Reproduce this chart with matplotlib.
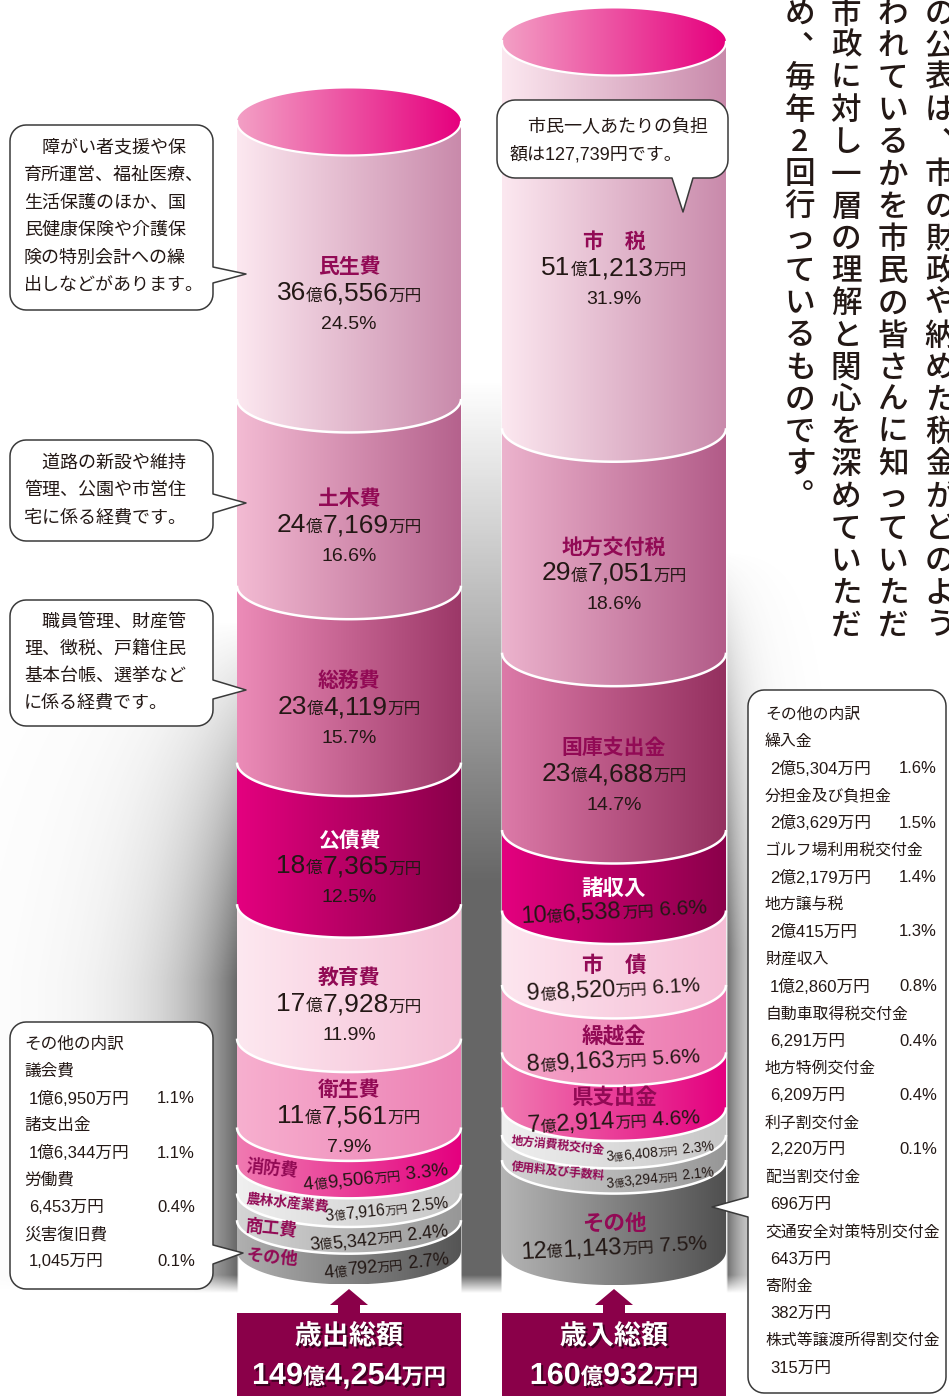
import numpy as np
import matplotlib
matplotlib.use('Agg')
import matplotlib.pyplot as plt
from matplotlib.patches import Polygon, Rectangle
from matplotlib.colors import LinearSegmentedColormap
import matplotlib.patheffects as pe

plt.rcParams['font.family'] = ['Liberation Sans', 'Noto Sans CJK JP', 'DejaVu Sans']

# ---- data (amounts in 万円) ----
exp_names = ['民生費', '土木費', '総務費', '公債費', '教育費', '衛生費',
             '消防費', '農林水産業費', '商工費', 'その他']
exp_amounts = [366556, 247169, 234119, 187365, 177928, 117561,
               49506, 37916, 35342, 40792]
exp_pct = [24.5, 16.6, 15.7, 12.5, 11.9, 7.9, 3.3, 2.5, 2.4, 2.7]

rev_names = ['市　税', '地方交付税', '国庫支出金', '諸収入', '市　債', '繰越金',
             '県支出金', '地方消費税交付金', '使用料及び手数料', 'その他']
rev_amounts = [511213, 297051, 234688, 106538, 98520, 89163,
               72914, 36408, 33294, 121143]
rev_pct = [31.9, 18.6, 14.7, 6.6, 6.1, 5.6, 4.6, 2.3, 2.1, 7.5]

exp_other_names = ['議会費', '諸支出金', '労働費', '災害復旧費']
exp_other_amounts = [16950, 16344, 6453, 1045]
exp_other_pct = [1.1, 1.1, 0.4, 0.1]

rev_other_names = ['繰入金', '分担金及び負担金', 'ゴルフ場利用税交付金', '地方譲与税',
                   '財産収入', '自動車取得税交付金', '地方特例交付金', '利子割交付金',
                   '配当割交付金', '交通安全対策特別交付金', '寄附金', '株式等譲渡所得割交付金']
rev_other_amounts = [25304, 23629, 22179, 20415, 12860, 6291, 6209, 2220,
                     696, 643, 382, 315]
rev_other_pct = [1.6, 1.5, 1.4, 1.3, 0.8, 0.4, 0.4, 0.1, None, None, None, None]

note_welfare = ['　障がい者支援や保', '育所運営、福祉医療、', '生活保護のほか、国',
                '民健康保険や介護保', '険の特別会計への繰', '出しなどがあります。']
note_civil = ['　道路の新設や維持', '管理、公園や市営住', '宅に係る経費です。']
note_general = ['　職員管理、財産管', '理、徴税、戸籍住民', '基本台帳、選挙など', 'に係る経費です。']
note_burden = ['　市民一人あたりの負担', '額は127,739円です。']
vertical_cols = ['の公表は、市の財政や納めた税金がどのよう',
                 'われているかを市民の皆さんに知っていただ',
                 '市政に対し一層の理解と関心を深めていただ',
                 'め、毎年2回行っているものです。']

# ---- styles ----
TXT = '#231815'
MAG = '#920a55'
exp_colors = [('#fce8f0', '#c98aab'), ('#f3bbd3', '#b5628d'), ('#ec8cb8', '#9c3868'),
              ('#e4007f', '#8a004a'), ('#fde8f0', '#f5bfd6'), ('#f7b0cf', '#ec80b4'),
              ('#f07ab1', '#e4007f'), ('#f0f0f0', '#c6c6c6'), ('#d5d5d5', '#979797'),
              ('#b0b0b0', '#555555')]
rev_colors = [('#fce8f0', '#c98aab'), ('#ecb3cd', '#b25b88'), ('#dc7aa8', '#94305f'),
              ('#e4007f', '#8a004a'), ('#fde6ef', '#f5bcd5'), ('#f5a7c9', '#ec77b0'),
              ('#f07ab1', '#e4007f'), ('#f0f0f0', '#c6c6c6'), ('#d5d5d5', '#979797'),
              ('#b5b5b5', '#505050')]
exp_style = ['big'] * 6 + ['side'] * 4
rev_style = ['big'] * 3 + ['two'] * 4 + ['side', 'side', 'two']
exp_name_col = [MAG, MAG, MAG, 'white', MAG, MAG, MAG, MAG, MAG, MAG]
rev_name_col = [MAG, MAG, MAG, 'white', MAG, MAG, MAG, MAG, MAG, MAG]
exp_side_sizes = [(12.5, 13.5), (10, 11.5), (12.5, 13), (12.5, 13)]
rev_side_sizes = [(8.5, 10), (8.5, 10)]

W, H = 949, 1396
fig = plt.figure(figsize=(W / 100, H / 100), dpi=100)
ax = fig.add_axes([0, 0, 1, 1])
ax.axis('off')
renderer = fig.canvas.get_renderer()

RX, RY = 112, 33.5
CX_L, TOP_L = 349, 122
CX_R, TOP_R = 614, 42
SCALE = 7.5556e-4   # px per 万円


def rich(x, y, parts, rot=0.0, ha='center', z=6, **kw):
    objs, widths = [], []
    for s, fs, col, fw in parts:
        t = ax.text(0, 0, s, fontsize=fs, color=col, fontweight=fw, ha='left',
                    va='baseline', rotation_mode='anchor', zorder=z, **kw)
        objs.append(t)
        widths.append(t.get_window_extent(renderer).width)
    total = sum(widths)
    c, s_ = np.cos(np.radians(rot)), np.sin(np.radians(rot))
    off = total / 2 if ha == 'center' else (total if ha == 'right' else 0)
    px, py = x - off * c, y + off * s_
    for t, w in zip(objs, widths):
        t.set_position((px, py))
        t.set_rotation(rot)
        px += w * c
        py -= w * s_


def money_parts(v, big, small, col, fw='normal'):
    oku, man = divmod(v, 10000)
    parts = []
    if oku:
        parts += [(str(oku), big, col, fw), ('億', small, col, fw)]
    if man:
        parts += [(f'{man:,}', big, col, fw)]
    return parts + [('万円', small, col, fw)]


def grad_fill(xy, c0, c1, z):
    poly = Polygon(xy, closed=True, fc='none', ec='none')
    ax.add_patch(poly)
    xs = [p[0] for p in xy]
    ys = [p[1] for p in xy]
    cmap = LinearSegmentedColormap.from_list('g', [c0, c1])
    im = ax.imshow(np.linspace(0, 1, 256)[None, :], cmap=cmap, aspect='auto',
                   extent=[min(xs), max(xs), max(ys), min(ys)], zorder=z,
                   interpolation='bilinear')
    im.set_clip_path(poly)


def cylinder(cx, top, amounts, colors):
    n = len(amounts)
    cum = np.concatenate([[0], np.cumsum(amounts)])
    tops = top + cum[:-1] * SCALE
    bots = top + cum[1:] * SCALE
    t = np.linspace(0, np.pi, 60)
    for i in range(n - 1, -1, -1):
        bx = cx + RX * np.cos(t)
        by = bots[i] + RY * np.sin(t)
        xy = [(cx - RX, tops[i]), (cx + RX, tops[i])] + list(zip(bx, by))
        z = 3 + (n - i) * 0.01
        grad_fill(xy, colors[i][0], colors[i][1], z)
        if i < n - 1:
            ax.plot(bx, by, color='white', lw=1.8, zorder=z + 0.005,
                    solid_capstyle='butt')
    # top ellipse
    tt = np.linspace(0, 2 * np.pi, 120)
    ex = cx + RX * np.cos(tt)
    ey = top + RY * np.sin(tt)
    grad_fill(list(zip(ex, ey)), '#f3a0c5', '#e6007e', 4)
    ax.plot(ex[:61], ey[:61], color='white', lw=1.6, zorder=4.01)
    return tops, bots


def labels(cx, tops, bots, names, amounts, pcts, styles, name_cols, side_sizes):
    k = 0
    for i in range(len(names)):
        mid = (tops[i] + bots[i]) / 2
        st = styles[i]
        if st == 'big':
            ny = mid + 7
            ax.text(cx, ny, names[i], ha='center', va='center', fontsize=15,
                    color=name_cols[i], fontweight='bold', zorder=6)
            rich(cx, ny + 33, money_parts(amounts[i], 19, 12, TXT))
            rich(cx, ny + 62, [(f'{pcts[i]}%', 14, TXT, 'normal')])
        elif st == 'two':
            ax.text(cx, mid + 19, names[i], ha='center', va='center', fontsize=15.5,
                    color=name_cols[i], fontweight='bold', zorder=6)
            rich(cx, mid + 48, money_parts(amounts[i], 17, 11.5, TXT)
                 + [(f' {pcts[i]}%', 15, TXT, 'normal')], rot=3)
        else:
            fn, fd = side_sizes[k]
            k += 1
            ax.text(cx - 103, mid + 19, names[i], ha='left', va='center',
                    fontsize=fn, color=name_cols[i], fontweight='bold',
                    rotation=-6, rotation_mode='anchor', zorder=6)
            rich(cx + 100, mid + 29, money_parts(amounts[i], fd, fd * 0.72, TXT)
                 + [(f' {pcts[i]}%', fd, TXT, 'normal')], rot=6, ha='right')


def bubble(x0, y0, x1, y1, r, side=None, a=0, b=0, tip=(0, 0), z=7):
    def arc(cx, cy, a0, a1):
        th = np.radians(np.linspace(a0, a1, 10))
        return list(zip(cx + r * np.cos(th), cy + r * np.sin(th)))
    pts = arc(x0 + r, y0 + r, 180, 270) + arc(x1 - r, y0 + r, 270, 360)
    if side == 'right':
        pts += [(x1, a), tip, (x1, b)]
    pts += arc(x1 - r, y1 - r, 0, 90)
    if side == 'bottom':
        pts += [(a, y1), tip, (b, y1)]
    pts += arc(x0 + r, y1 - r, 90, 180)
    if side == 'left':
        pts += [(x0, a), tip, (x0, b)]
    ax.add_patch(Polygon(pts, closed=True, fc='white', ec='#3a3a3a', lw=1.1,
                         zorder=z, joinstyle='round'))


# ---- background shadow ----
ys, xs = np.mgrid[0:H:2, 0:W:2].astype(float)
lx0, lx1, rx0, rx1 = CX_L - RX, CX_L + RX, CX_R - RX, CX_R + RX
alpha = np.zeros_like(xs)
m = xs < lx0
alpha[m] = np.exp(-(lx0 - xs[m]) / 60) * np.clip((ys[m] - 620) / 360, 0, 1)
m = (xs > lx1) & (xs < rx0)
alpha[m] = np.clip((ys[m] - 380) / 500, 0, 1)
m = xs > rx1
alpha[m] = np.exp(-(xs[m] - rx1) / 22) * np.clip((ys[m] - 550) / 400, 0, 1)
alpha *= np.clip((1292 - ys) / 18, 0, 1) * 0.88
shadow = np.zeros(xs.shape + (4,))
shadow[..., :3] = 0.32
shadow[..., 3] = alpha
ax.imshow(shadow, extent=[0, W, H, 0], zorder=1, aspect='auto', interpolation='bilinear')

# ---- cylinders ----
et, eb = cylinder(CX_L, TOP_L, exp_amounts, exp_colors)
rt, rb = cylinder(CX_R, TOP_R, rev_amounts, rev_colors)
labels(CX_L, et, eb, exp_names, exp_amounts, exp_pct, exp_style, exp_name_col, exp_side_sizes)
labels(CX_R, rt, rb, rev_names, rev_amounts, rev_pct, rev_style, rev_name_col, rev_side_sizes)

# ---- totals ----
sh = [pe.withSimplePatchShadow(offset=(1.5, -1.5), shadow_rgbFace='black', alpha=0.55)]
for cx, title, total in [(CX_L, '歳出総額', sum(exp_amounts)),
                         (CX_R, '歳入総額', sum(rev_amounts))]:
    ax.add_patch(Rectangle((cx - RX, 1313), 2 * RX, 90, fc='#8a0049', ec='none', zorder=5))
    ax.add_patch(Polygon([(cx - 11, 1314), (cx - 11, 1305), (cx - 19, 1305), (cx, 1289),
                          (cx + 19, 1305), (cx + 11, 1305), (cx + 11, 1314)],
                         closed=True, fc='#8a0049', ec='none', zorder=5))
    ax.text(cx, 1337, title, ha='center', va='center', fontsize=19.5, color='white',
            fontweight='bold', zorder=6, path_effects=sh)
    rich(cx, 1384, money_parts(total, 22, 16, 'white', 'bold'), path_effects=sh)

# ---- callouts ----
bubble(10, 125, 213, 310, 16, 'right', 267, 283, (246, 274))
for j, s in enumerate(note_welfare):
    ax.text(24, 148 + 27.5 * j, s, ha='left', va='center', fontsize=13, color=TXT, zorder=8)
bubble(10, 440, 213, 541, 16, 'right', 494, 513, (246, 503))
for j, s in enumerate(note_civil):
    ax.text(24, 463 + 27.5 * j, s, ha='left', va='center', fontsize=13, color=TXT, zorder=8)
bubble(10, 600, 213, 726, 16, 'right', 680, 699, (246, 690))
for j, s in enumerate(note_general):
    ax.text(24, 622 + 27 * j, s, ha='left', va='center', fontsize=13, color=TXT, zorder=8)
bubble(497, 100, 728, 178, 18, 'bottom', 693, 672, (683, 212))
for j, s in enumerate(note_burden):
    ax.text(510, 128 + 27 * j, s, ha='left', va='center', fontsize=13, color=TXT, zorder=8)


def fmt_amt(v):
    oku, man = divmod(v, 10000)
    return (f'{oku}億' if oku else '') + (f'{man:,}' if man else '') + '万円'


BOX_FS = 11.4
bubble(10, 1022, 213, 1289, 16, 'right', 1245, 1264, (243, 1253))
ax.text(24, 1044, 'その他の内訳', ha='left', va='center', fontsize=BOX_FS + 0.6, color=TXT, zorder=8)
for j, (nm, v, p) in enumerate(zip(exp_other_names, exp_other_amounts, exp_other_pct)):
    y = 1044 + 27.25 * (2 * j + 1)
    ax.text(24, y, nm, ha='left', va='center', fontsize=BOX_FS + 0.6, color=TXT, zorder=8)
    ax.text(29, y + 27.25, fmt_amt(v), ha='left', va='center', fontsize=BOX_FS + 0.6, color=TXT, zorder=8)
    ax.text(195, y + 27.25, f'{p}%', ha='right', va='center', fontsize=BOX_FS + 0.6, color=TXT, zorder=8)

bubble(748, 690, 946, 1393, 16, 'left', 1217, 1197, (712, 1207))
ax.text(765, 714, 'その他の内訳', ha='left', va='center', fontsize=BOX_FS, color=TXT, zorder=8)
for j, (nm, v, p) in enumerate(zip(rev_other_names, rev_other_amounts, rev_other_pct)):
    y = 714 + 27.25 * (2 * j + 1)
    ax.text(765, y, nm, ha='left', va='center', fontsize=BOX_FS, color=TXT, zorder=8)
    ax.text(770, y + 27.25, fmt_amt(v), ha='left', va='center', fontsize=BOX_FS + 0.6, color=TXT, zorder=8)
    if p is not None:
        ax.text(937, y + 27.25, f'{p}%', ha='right', va='center', fontsize=BOX_FS + 0.6, color=TXT, zorder=8)

# ---- vertical text (top right) ----
for col, xc in zip(vertical_cols, [940, 893, 846, 800]):
    for i, ch in enumerate(col):
        x, y = xc, 14 + 32.2 * i
        if ch in '、。':
            x, y = x + 17, y - 17
        ax.text(x, y, ch, ha='center', va='center', fontsize=22, color=TXT,
                fontweight='medium', family=['Noto Sans CJK JP', 'DejaVu Sans'], zorder=8)

ax.set_xlim(0, W)
ax.set_ylim(H, 0)
fig.savefig('out.png', dpi=100)
